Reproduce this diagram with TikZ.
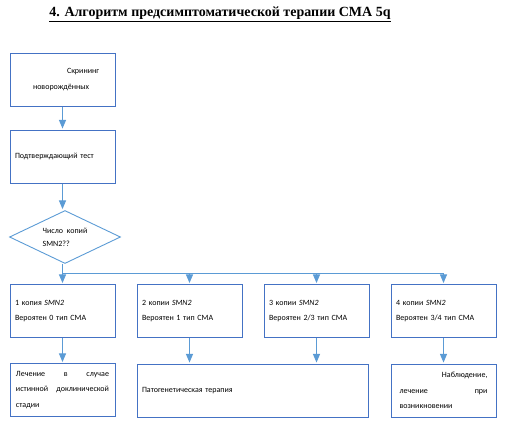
\documentclass[tikz,border=0pt]{standalone}
\usepackage{fontspec}
\setmainfont{Carlito}
\newfontfamily\titlefont{Liberation Serif}
\usetikzlibrary{arrows,positioning,shapes.geometric}
\definecolor{boxblue}{HTML}{4472C4}
\definecolor{lineblue}{HTML}{5B9BD5}

\begin{document}
\begin{tikzpicture}[x=1pt,y=-1pt,node distance=127pt,
    font=\fontsize{8}{15.5}\selectfont,
    box/.style={draw=boxblue,line width=1pt,rectangle,minimum width=105pt,minimum height=53pt,text width=95pt,inner xsep=5pt,align=left},
    decision/.style={draw=lineblue,line width=0.9pt,diamond,aspect=2,inner sep=0pt,minimum width=111pt,minimum height=53pt,align=left,font=\fontsize{8}{13}\selectfont},
    arr/.style={draw=lineblue,line width=1pt,-triangle 45,shorten >=1pt},
    bus/.style={draw=lineblue,line width=1pt}]
      \useasboundingbox (0,0) rectangle (508,424);
      \node[font=\titlefont\bfseries\fontsize{14}{16}\selectfont] (title) at (220,14) {\underline{4. Алгоритм предсимптоматической терапии СМА 5q}};

      \node[box] (screen) at (62.5,79.5) {\hspace*{52pt}Скрининг\\\hspace*{18pt}новорождённых};
      \node[box] (confirm) at (62.5,156.5) {Подтверждающий тест};
      \node[decision] (copies) at (65,237) {Число\ \ копий\\SMN2??};

      \node[box] (c1) at (62.5,311) {1 копия \textit{SMN2}\\Вероятен 0 тип СМА\\[-4pt]};
      \node[box] (c2) [right of=c1] {2 копии \textit{SMN2}\\Вероятен 1 тип СМА\\[-4pt]};
      \node[box] (c3) [right of=c2] {3 копии \textit{SMN2}\\Вероятен 2/3 тип СМА\\[-4pt]};
      \node[box] (c4) [right of=c3] {4 копии \textit{SMN2}\\Вероятен 3/4 тип СМА\\[-4pt]};

      \node[box,text width=93pt] (t1) at (62.5,390) {Лечение \hfill в \hfill случае\\истинной \hfill доклинической\\стадии};
      \node[box,minimum width=231pt,text width=221pt] (t2) at (252.5,390.5) {Патогенетическая терапия};
      \node[box,text width=88pt] (t3) at (443.5,390.5) {\hfill Наблюдение,\\лечение \hfill при\\возникновении};

      \coordinate (split) at (62.5,273);

      \draw[arr] (screen) -- (confirm);
      \draw[arr] (confirm.south) -- (confirm.south |- copies.north);
      \draw[arr] (copies.south -| c1.north) -- (c1.north);
      \draw[bus] (split) -- (split -| c4.north);
      \foreach \n in {c2,c3,c4}
        \draw[arr] (split -| \n.north) -- (\n.north);

      \draw[arr] (c1) -- (t1);
      \draw[arr] (c2.south) -- (c2.south |- t2.north);
      \draw[arr] (c3.south) -- (c3.south |- t2.north);
      \draw[arr] (c4) -- (t3);
\end{tikzpicture}
\end{document}
